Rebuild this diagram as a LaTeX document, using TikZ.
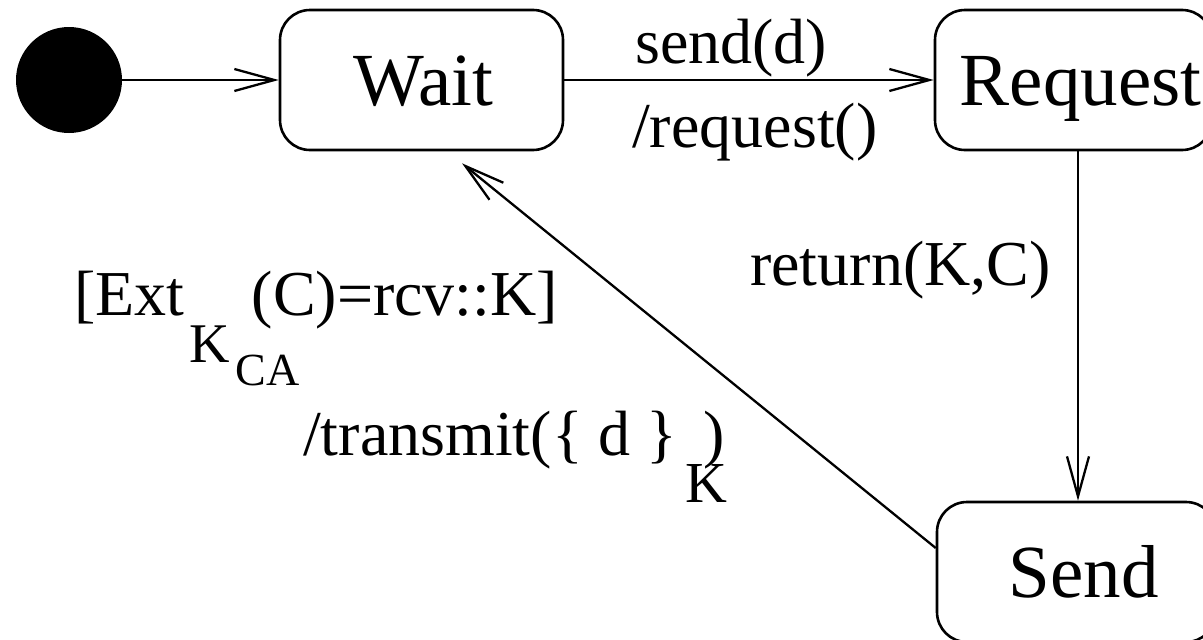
\documentclass[tikz,border=0pt]{standalone}
\usepackage{fontspec}
\setmainfont{Liberation Serif}
\usetikzlibrary{arrows.meta,calc}
\tikzset{
  state/.style={draw, line width=2.6pt, rounded corners=30pt, rectangle, inner sep=0pt,
    minimum height=140pt, font=\fontsize{75}{80}\selectfont, text height=50pt, text depth=0pt},
  trans/.style={line width=2.3pt, -{Straight Barb[length=40pt,width=22pt]}},
  lbl/.style={anchor=base west, inner sep=0pt, font=\fontsize{64}{70}\selectfont},
}
\begin{document}
\begin{tikzpicture}[x=1pt,y=-1pt]
\useasboundingbox (0,0) rectangle (1203,640);
\clip (0,0) rectangle (1203,640);
\node[circle, fill=black, minimum size=106pt, inner sep=0pt] (init) at (69,80) {};
\node[state, minimum width=283pt] (wait) at (421.5,80) {\hspace*{4pt}Wait};
\node[state, minimum width=277pt] (request) at (1073.5,80) {\hspace*{14pt}Request};
\node[state, minimum width=279pt] (send) at (1076.5,572) {\hspace*{14pt}Send};
\draw[trans] (init) -- (wait.west);
\draw[trans] (wait.east) -- (request.west);
\coordinate (rs) at ($(request.south)+(4.5,0)$);
\draw[trans] (rs) -- (rs |- send.north);
\coordinate (sw) at ($(send.west)+(0,-24)$);
\coordinate (wt) at ($(wait.south)+(40.5,12)$);
\draw[trans] (sw) -- (wt);
\node[lbl] (l1) at (635,63) {send(d)};
\node[lbl] (l2) at (632,147) {/request()};
\node[lbl] (l3) at (750,285) {return(K,C)};
\node[lbl] (l4) at (74,315) {[Ext\hspace{5pt}\raisebox{-47pt}{\fontsize{56}{60}\selectfont K}\hspace{6pt}\raisebox{-70pt}{\fontsize{46}{50}\selectfont CA}\hspace{-48pt}(C)=rcv::K]};
\node[lbl] (l5) at (303,455) {/transmit(\{ d \}\hspace{8pt}\raisebox{-47pt}{\fontsize{58}{62}\selectfont K}\hspace{-24pt})};
\end{tikzpicture}
\end{document}
